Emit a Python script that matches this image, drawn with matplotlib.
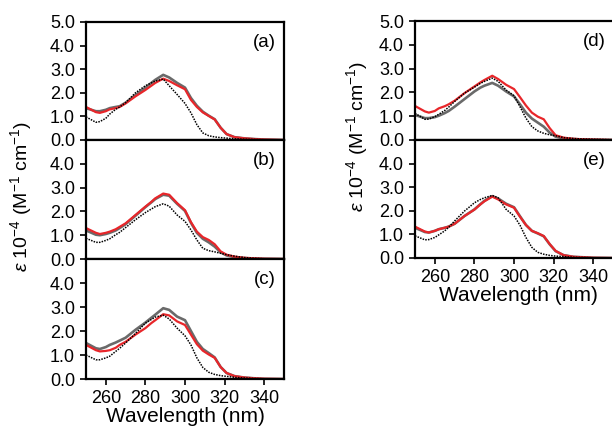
# UV absorption spectra, five panels (a)-(e)
import matplotlib.pyplot as plt

plt.rcParams['font.family'] = ['Liberation Sans', 'DejaVu Sans']
plt.rcParams['mathtext.fontset'] = 'custom'
plt.rcParams['mathtext.rm'] = 'Liberation Sans'
plt.rcParams['mathtext.it'] = 'Liberation Sans:italic'

wavelength = [250, 255, 257, 260, 262, 265, 267, 270, 275, 280, 283, 285, 289, 292,
              296, 300, 303, 306, 309, 312, 315, 318, 321, 325, 330, 335, 340, 350]

# panel (a)
a_red = [1.40, 1.18, 1.15, 1.22, 1.30, 1.35, 1.40, 1.55, 1.85, 2.12, 2.30, 2.42, 2.60, 2.50,
         2.32, 2.15, 1.70, 1.40, 1.17, 1.02, 0.87, 0.52, 0.25, 0.12, 0.07, 0.04, 0.02, 0.0]
a_gray = [1.35, 1.22, 1.22, 1.28, 1.35, 1.40, 1.43, 1.58, 1.90, 2.22, 2.42, 2.55, 2.76, 2.65,
          2.42, 2.22, 1.78, 1.45, 1.20, 1.03, 0.88, 0.52, 0.25, 0.12, 0.07, 0.04, 0.02, 0.0]
a_black = [0.98, 0.75, 0.78, 0.92, 1.10, 1.30, 1.40, 1.58, 2.00, 2.30, 2.42, 2.50, 2.58, 2.30,
           1.93, 1.55, 1.15, 0.65, 0.30, 0.18, 0.13, 0.10, 0.08, 0.05, 0.03, 0.02, 0.01, 0.0]

# panel (b)
b_red = [1.30, 1.10, 1.05, 1.10, 1.15, 1.25, 1.35, 1.50, 1.85, 2.20, 2.40, 2.55, 2.75, 2.70,
         2.35, 2.05, 1.55, 1.15, 0.92, 0.80, 0.62, 0.32, 0.18, 0.10, 0.05, 0.03, 0.01, 0.0]
b_gray = [1.20, 1.02, 1.00, 1.05, 1.10, 1.20, 1.30, 1.46, 1.82, 2.18, 2.38, 2.52, 2.70, 2.66,
          2.32, 2.02, 1.52, 1.10, 0.85, 0.70, 0.52, 0.28, 0.15, 0.08, 0.04, 0.02, 0.01, 0.0]
b_black = [0.87, 0.70, 0.70, 0.78, 0.85, 1.02, 1.12, 1.32, 1.65, 1.95, 2.10, 2.20, 2.32, 2.22,
           1.85, 1.58, 1.22, 0.80, 0.45, 0.35, 0.30, 0.24, 0.18, 0.12, 0.06, 0.03, 0.01, 0.0]

# panel (c)
c_red = [1.42, 1.20, 1.15, 1.17, 1.20, 1.30, 1.42, 1.55, 1.85, 2.12, 2.33, 2.45, 2.70, 2.65,
         2.40, 2.25, 1.85, 1.45, 1.18, 1.02, 0.88, 0.50, 0.25, 0.12, 0.06, 0.03, 0.01, 0.0]
c_gray = [1.50, 1.28, 1.25, 1.33, 1.42, 1.52, 1.60, 1.72, 2.05, 2.35, 2.55, 2.68, 2.95, 2.88,
          2.60, 2.45, 2.00, 1.55, 1.25, 1.08, 0.90, 0.50, 0.25, 0.12, 0.06, 0.03, 0.01, 0.0]
c_black = [1.00, 0.80, 0.80, 0.88, 0.95, 1.15, 1.28, 1.50, 1.90, 2.33, 2.48, 2.58, 2.66, 2.50,
           2.12, 1.80, 1.42, 0.88, 0.48, 0.28, 0.19, 0.14, 0.11, 0.07, 0.04, 0.02, 0.01, 0.0]

# panel (d)
d_red = [1.43, 1.20, 1.15, 1.22, 1.33, 1.42, 1.50, 1.65, 1.97, 2.25, 2.42, 2.52, 2.70, 2.56,
         2.32, 2.14, 1.80, 1.45, 1.15, 0.98, 0.87, 0.50, 0.20, 0.10, 0.05, 0.03, 0.02, 0.0]
d_gray = [1.05, 0.92, 0.92, 0.96, 1.02, 1.13, 1.22, 1.40, 1.72, 2.04, 2.20, 2.28, 2.40, 2.28,
          2.04, 1.83, 1.50, 1.15, 0.90, 0.73, 0.56, 0.31, 0.14, 0.07, 0.04, 0.02, 0.01, 0.0]
d_black = [1.12, 0.87, 0.88, 0.98, 1.08, 1.24, 1.38, 1.62, 1.97, 2.22, 2.38, 2.46, 2.60, 2.46,
           2.10, 1.86, 1.40, 0.92, 0.56, 0.38, 0.28, 0.22, 0.18, 0.10, 0.06, 0.04, 0.03, 0.01]

# panel (e)
e_red = [1.33, 1.12, 1.08, 1.15, 1.22, 1.28, 1.33, 1.45, 1.78, 2.05, 2.27, 2.40, 2.60, 2.48,
         2.27, 2.13, 1.75, 1.40, 1.15, 1.05, 0.93, 0.59, 0.30, 0.12, 0.05, 0.03, 0.01, 0.0]
e_gray = [1.28, 1.10, 1.08, 1.15, 1.22, 1.28, 1.33, 1.45, 1.78, 2.06, 2.28, 2.42, 2.62, 2.52,
          2.30, 2.15, 1.77, 1.40, 1.15, 1.04, 0.92, 0.58, 0.29, 0.12, 0.05, 0.03, 0.01, 0.0]
e_black = [0.94, 0.77, 0.78, 0.87, 0.98, 1.15, 1.30, 1.57, 1.99, 2.34, 2.48, 2.55, 2.65, 2.55,
           2.06, 1.78, 1.39, 0.87, 0.45, 0.24, 0.16, 0.11, 0.08, 0.06, 0.03, 0.02, 0.01, 0.0]

x_ticks = [260, 280, 300, 320, 340]
ylabel = r'$\varepsilon$ 10$^{-4}$ (M$^{-1}$ cm$^{-1}$)'

W, H = 612, 430
fig = plt.figure(figsize=(W / 100, H / 100), dpi=100)


def px_axes(x0, y_top, y_bot, width=198):
    return fig.add_axes([x0 / W, 1 - y_bot / H, width / W, (y_bot - y_top) / H])


def draw_panel(ax, red, gray, black, label, top_tick, bottom, xmax=350, label_x=0.96):
    ax.plot(wavelength, gray, color='#6a6a6a', lw=1.9)
    ax.plot(wavelength, red, color='#e8262a', lw=1.6)
    ax.plot(wavelength, black, color='black', lw=1.1, ls=(0, (1, 0.8)))
    ax.set_xlim(250, xmax)
    ax.set_ylim(0, 5)
    ticks = [0, 1, 2, 3, 4, 5][:top_tick + 1]
    ax.set_yticks(ticks)
    ax.set_yticklabels(['%.1f' % t for t in ticks])
    for s in ax.spines.values():
        s.set_linewidth(1.6)
    ax.tick_params(axis='y', direction='out', length=4, width=1.2, labelsize=13, pad=4)
    if bottom:
        ax.set_xticks(x_ticks)
        ax.tick_params(axis='x', direction='out', length=4, width=1.2, labelsize=13, pad=4)
        ax.set_xlabel('Wavelength (nm)', fontsize=15, labelpad=0)
    else:
        ax.set_xticks([])
    ax.text(label_x, 0.83, label, transform=ax.transAxes, ha='right', va='center', fontsize=13.5)


# left column
ax_a = px_axes(86, 22, 140)
ax_b = px_axes(86, 140, 259)
ax_c = px_axes(86, 259, 379)
draw_panel(ax_a, a_red, a_gray, a_black, '(a)', 5, False)
draw_panel(ax_b, b_red, b_gray, b_black, '(b)', 4, False)
draw_panel(ax_c, c_red, c_gray, c_black, '(c)', 4, True)
fig.text(21 / W, 1 - 196 / H, ylabel, rotation=90, ha='center', va='center', fontsize=14)

# right column (cut off at the figure edge)
ax_d = px_axes(415, 21, 140, width=206)
ax_e = px_axes(415, 140, 258, width=206)
draw_panel(ax_d, d_red, d_gray, d_black, '(d)', 5, False, xmax=354, label_x=0.925)
draw_panel(ax_e, e_red, e_gray, e_black, '(e)', 4, True, xmax=354, label_x=0.925)
fig.text(357 / W, 1 - 136 / H, ylabel, rotation=90, ha='center', va='center', fontsize=14)

fig.savefig('out.png', dpi=100)
